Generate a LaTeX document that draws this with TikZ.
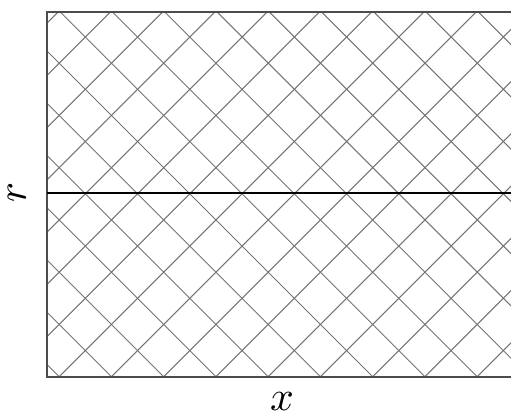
\documentclass[tikz,border=0pt]{standalone}
\usetikzlibrary{calc}
\tikzset{
  frameline/.style={draw=black!70, line width=0.4pt},
  gridline/.style={draw=black!55, line width=0.25pt},
  axisline/.style={draw=black, line width=0.5pt},
  axislabel/.style={inner sep=0pt, font=\normalsize}
}
\begin{document}
\begin{tikzpicture}[x=0.24pt, y=-0.24pt]
  \useasboundingbox (0,0) rectangle (511,414);
  \coordinate (tl) at (46.7,12.3);
  \coordinate (bl) at (46.7,376.7);
  \coordinate (tr) at (511,12.3);
  \coordinate (br) at (511,376.7);
  \coordinate (ml) at (46.7,192.7);
  \coordinate (mr) at (511,192.7);
  \begin{scope}
    \clip (tl) rectangle (br);
    \foreach \k in {-12,...,22} {
      \pgfmathsetmacro{\ca}{435.9 + 52.25*\k}
      \pgfmathsetmacro{\cb}{-317.5 + 52.25*\k}
      \draw[gridline] (\ca+100,-100) -- (\ca-500,500);
      \draw[gridline] (\cb-100,-100) -- (\cb+500,500);
    }
  \end{scope}
  \draw[frameline] (tr) -- (tl) -- (bl) -- (br);
  \draw[axisline] (ml) -- (mr);
  \node[axislabel] (xlab) at (282,402) {$x$};
  \node[axislabel, rotate=90] (rlab) at (17,193) {$r$};
\end{tikzpicture}
\end{document}
